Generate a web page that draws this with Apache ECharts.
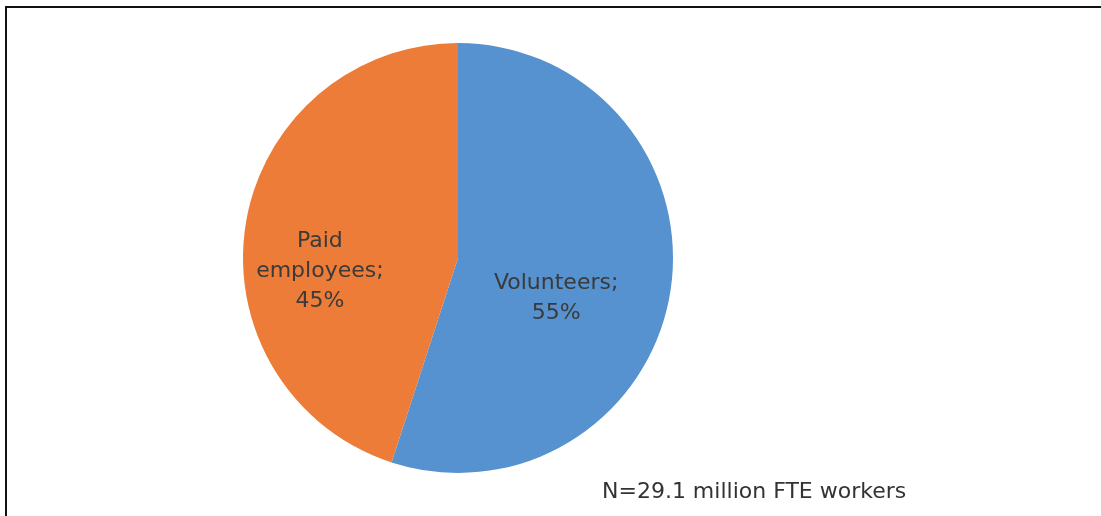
<!DOCTYPE html>
<html>
<head>
<meta charset="utf-8">
<script src="https://cdn.jsdelivr.net/npm/echarts@6/dist/echarts.min.js"></script>
<style>
  html, body { margin: 0; padding: 0; background: #fff; }
  #chart { width: 1101px; height: 516px; }
</style>
</head>
<body>
<div id="chart"></div>
<script>
  // data
  const categories = ['Volunteers', 'Paid\nemployees']
  const shares = [55, 45]
  const colors = ['#5592CF', '#EC7C38']
  const note = 'N=29.1 million FTE workers'

  const labelOffsets = [[-11, 23], [-29, 31]]

  const mychart = echarts.init(document.getElementById('chart'))
  mychart.setOption({
    animation: false,
    title: {
      text: note,
      left: 597,
      top: 476,
      textStyle: {
        fontFamily: 'DejaVu Sans',
        fontWeight: 'normal',
        fontSize: 22,
        color: '#333'
      }
    },
    graphic: [{
      type: 'rect',
      shape: { x: 6, y: 7, width: 1200, height: 600 },
      style: { fill: 'none', stroke: '#111', lineWidth: 2 },
      silent: true
    }],
    series: [{
      type: 'pie',
      center: [458, 258],
      radius: [0, 215],
      startAngle: 90,
      clockwise: true,
      avoidLabelOverlap: false,
      label: {
        position: 'inside',
        fontFamily: 'DejaVu Sans',
        fontSize: 22,
        lineHeight: 30,
        color: '#3a3a3a',
        formatter: p => p.name + ';\n' + p.value + '%'
      },
      labelLine: { show: false },
      itemStyle: { borderWidth: 0 },
      data: categories.map((name, i) => ({
        name: name,
        value: shares[i],
        itemStyle: { color: colors[i] },
        label: { offset: labelOffsets[i] }
      }))
    }]
  })
</script>
</body>
</html>
